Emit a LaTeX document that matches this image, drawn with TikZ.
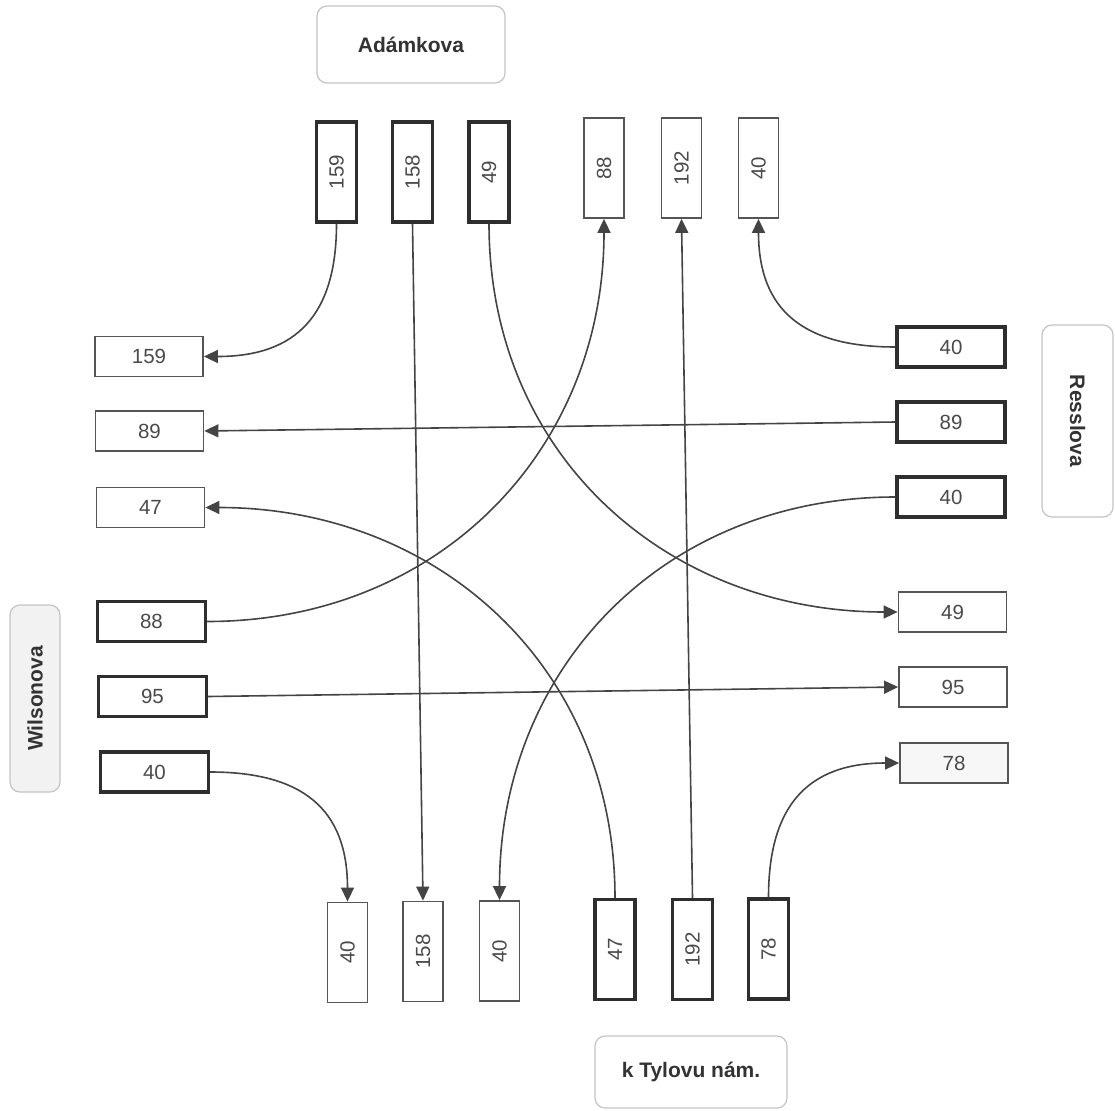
\documentclass[tikz,border=0pt]{standalone}
\usepackage{fontspec}
\setmainfont{Liberation Sans}
\usetikzlibrary{arrows.meta}
\definecolor{numtext}{HTML}{4A4A4A}
\definecolor{labeltext}{HTML}{333333}
\definecolor{strong}{HTML}{2E2E2E}
\definecolor{weak}{HTML}{555555}
\definecolor{wire}{HTML}{444444}
\definecolor{streetline}{HTML}{C4C4C4}
\tikzset{
  numfont/.style={font=\fontsize{20.5}{24}\selectfont, text=numtext},
  inbox/.style={numfont, draw=strong, line width=3.2pt, fill=white, inner sep=0pt},
  outbox/.style={numfont, draw=weak, line width=1.8pt, fill=white, inner sep=0pt},
  hbox/.style={minimum width=108pt, minimum height=40pt},
  vbox/.style={minimum width=40pt, minimum height=100pt},
  street/.style={draw=streetline, line width=1.2pt, rounded corners=10pt, inner sep=0pt,
    font=\fontsize{21}{25}\bfseries\selectfont, text=labeltext},
  conn/.style={draw=wire, line width=1.6pt, -{Triangle[length=14pt,width=13pt]}},
}
\begin{document}
\begin{tikzpicture}[x=1pt,y=1pt]
\useasboundingbox (0,0) rectangle (1115,-1110);

% street names
\node[street, fill=white, minimum width=188pt, minimum height=77pt] (sA) at (411,-44.5) {Adámkova};
\node[street, fill=gray!10, minimum width=50pt, minimum height=187pt] (sW) at (35,-698.5) {\rotatebox{90}{Wilsonova}};
\node[street, fill=white, minimum width=71pt, minimum height=192pt] (sR) at (1077.5,-421) {\rotatebox{-90}{Resslova}};
\node[street, fill=white, minimum width=192pt, minimum height=72pt] (sT) at (691,-1072) {k Tylovu nám.};

% Adámkova: incoming (thick) and outgoing (thin) lanes
\node[inbox, vbox] (a159) at (336.5,-172) {\rotatebox{90}{159}};
\node[inbox, vbox] (a158) at (412.5,-172) {\rotatebox{90}{158}};
\node[inbox, vbox] (a49)  at (489,-172)   {\rotatebox{90}{49}};
\node[outbox, vbox] (a88)  at (604,-168)   {\rotatebox{90}{88}};
\node[outbox, vbox] (a192) at (681.5,-168) {\rotatebox{90}{192}};
\node[outbox, vbox] (a40)  at (758.5,-168) {\rotatebox{90}{40}};

% Wilsonova
\node[outbox, hbox] (w159) at (149,-356.5)   {159};
\node[outbox, hbox] (w89)  at (149.5,-431)   {89};
\node[outbox, hbox] (w47)  at (150.5,-507.5) {47};
\node[inbox, hbox]  (w88)  at (151.5,-621.5) {88};
\node[inbox, hbox]  (w95)  at (152.5,-696.5) {95};
\node[inbox, hbox]  (w40)  at (154.5,-772)   {40};

% Resslova
\node[inbox, hbox]  (r40a) at (951,-347)   {40};
\node[inbox, hbox]  (r89)  at (951,-422)   {89};
\node[inbox, hbox]  (r40b) at (951,-497)   {40};
\node[outbox, hbox] (r49)  at (952.5,-612) {49};
\node[outbox, hbox] (r95)  at (953,-687)   {95};
\node[outbox, hbox, fill=gray!6] (r78) at (954,-763) {78};

% k Tylovu nám.
\node[outbox, vbox] (t40a) at (347.5,-952.5) {\rotatebox{90}{40}};
\node[outbox, vbox] (t158) at (423,-951.5)   {\rotatebox{90}{158}};
\node[outbox, vbox] (t40b) at (499.5,-951)   {\rotatebox{90}{40}};
\node[inbox, vbox]  (t47)  at (615,-949.5)   {\rotatebox{90}{47}};
\node[inbox, vbox]  (t192) at (692.5,-949.5) {\rotatebox{90}{192}};
\node[inbox, vbox]  (t78)  at (768.5,-949)   {\rotatebox{90}{78}};

% turning movements
\draw[conn] (a159.south) to[out=-90,in=0,looseness=1.25] (w159.east);
\draw[conn] (a158.south) -- (t158.north);
\draw[conn] (a49.south) to[out=-90,in=180,looseness=1.05] (r49.west);

\draw[conn] (r40a.west) to[out=180,in=-90,looseness=1.25] (a40.south);
\draw[conn] (r89.west) -- (w89.east);
\draw[conn] (r40b.west) to[out=180,in=90,looseness=1.05] (t40b.north);

\draw[conn] (w88.east) to[out=0,in=-90,looseness=1.05] (a88.south);
\draw[conn] (w95.east) -- (r95.west);
\draw[conn] (w40.east) to[out=0,in=90,looseness=1.25] (t40a.north);

\draw[conn] (t47.north) to[out=90,in=0,looseness=1.05] (w47.east);
\draw[conn] (t192.north) -- (a192.south);
\draw[conn] (t78.north) to[out=90,in=180,looseness=1.25] (r78.west);
\end{tikzpicture}
\end{document}
